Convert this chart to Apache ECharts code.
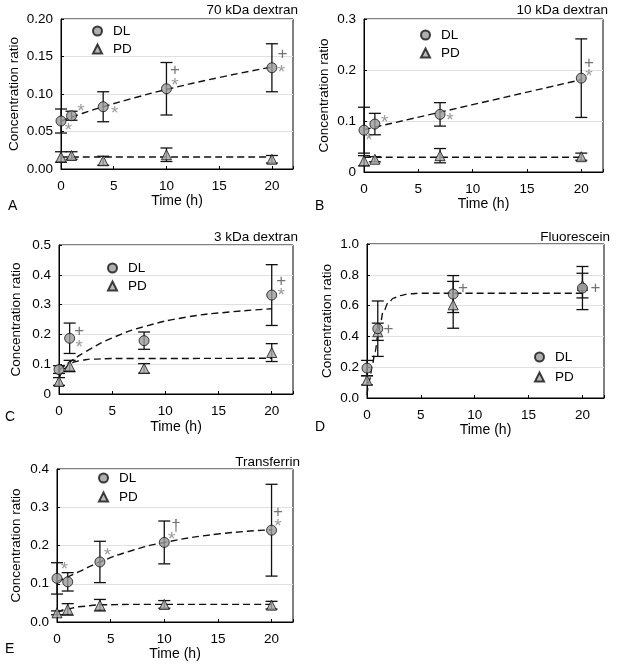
<!DOCTYPE html>
<html><head><meta charset="utf-8">
<script src="https://cdn.jsdelivr.net/npm/echarts@6/dist/echarts.min.js"></script>
<style>html,body{margin:0;padding:0;background:#fff}#c{width:627px;height:671px}</style>
</head><body><div id="c"></div><script>
// ---------- DATA ----------
const xTicks = [0, 5, 10, 15, 20];
// A: 70 kDa dextran
const timeA = [0, 1, 4, 10, 20];
const dlA = [0.064, 0.071, 0.083, 0.107, 0.135];
const dlErrA = [0.016, 0.006, 0.020, 0.035, 0.032];
const pdA = [0.016, 0.018, 0.011, 0.019, 0.013];
const pdErrA = [0.007, 0.005, 0.006, 0.009, 0.005];
const fitDlTimeA = [0, 2, 4, 7, 10, 15, 20];
const fitDlA = [0.064, 0.074, 0.083, 0.095, 0.106, 0.122, 0.136];
const fitPdTimeA = [0, 20];
const fitPdA = [0.016, 0.016];
const annotA = [[0.7,0.056,'*'],[1.9,0.082,'*'],[5.1,0.079,'*'],[10.8,0.131,'+'],[10.8,0.116,'*'],[21,0.153,'+'],[20.9,0.134,'*']];
// B: 10 kDa dextran
const timeB = [0, 1, 7, 20];
const dlB = [0.082, 0.094, 0.113, 0.184];
const dlErrB = [0.045, 0.021, 0.023, 0.077];
const pdB = [0.022, 0.025, 0.032, 0.030];
const pdErrB = [0.010, 0.005, 0.014, 0.007];
const fitDlTimeB = [0, 20];
const fitDlB = [0.083, 0.181];
const fitPdTimeB = [0, 20];
const fitPdB = [0.029, 0.029];
const annotB = [[0.45,0.070,'*'],[1.9,0.105,'*'],[7.9,0.108,'*'],[20.7,0.214,'+'],[20.7,0.194,'*']];
// C: 3 kDa dextran
const timeC = [0, 1, 8, 20];
const dlC = [0.082, 0.187, 0.179, 0.332];
const dlErrC = [0.013, 0.051, 0.029, 0.102];
const pdC = [0.042, 0.094, 0.086, 0.139];
const pdErrC = [0.013, 0.019, 0.016, 0.030];
const fitDlTimeC = [0, 1, 2.5, 5, 8, 12, 16, 20];
const fitDlC = [0.080, 0.107, 0.142, 0.188, 0.226, 0.258, 0.275, 0.286];
const fitPdTimeC = [0, 0.5, 1, 1.5, 2, 3, 5, 20];
const fitPdC = [0.050, 0.085, 0.100, 0.108, 0.113, 0.117, 0.119, 0.120];
const annotC = [[1.9,0.209,'+'],[1.9,0.170,'*'],[20.9,0.377,'+'],[20.9,0.343,'*']];
// D: Fluorescein
const timeD = [0, 1, 8, 20];
const dlD = [0.194, 0.450, 0.675, 0.714];
const dlErrD = [0.050, 0.180, 0.120, 0.140];
const pdD = [0.115, 0.430, 0.605, 0.730];
const pdErrD = [0.030, 0.056, 0.152, 0.080];
const fitDlTimeD = [0, 0.25, 0.5, 0.75, 1, 1.25, 1.5, 2, 2.5, 3, 4, 5, 8, 20];
const fitDlD = [0.02, 0.12, 0.22, 0.30, 0.40, 0.49, 0.56, 0.62, 0.65, 0.665, 0.677, 0.68, 0.68, 0.68];
const fitPdTimeD = [];
const fitPdD = [];
const annotD = [[2.0,0.445,'+'],[8.9,0.714,'+'],[21.2,0.71,'+']];
// E: Transferrin
const timeE = [0, 1, 4, 10, 20];
const dlE = [0.114, 0.105, 0.157, 0.208, 0.240];
const dlErrE = [0.041, 0.024, 0.054, 0.056, 0.120];
const pdE = [0.024, 0.033, 0.044, 0.046, 0.044];
const pdErrE = [0.005, 0.015, 0.015, 0.010, 0.010];
const fitDlTimeE = [0, 2, 4, 7, 10, 15, 20];
const fitDlE = [0.105, 0.131, 0.157, 0.187, 0.208, 0.230, 0.241];
const fitPdTimeE = [0, 1, 2, 4, 7, 20];
const fitPdE = [0.025, 0.034, 0.040, 0.045, 0.046, 0.046];
const annotE = [[0.7,0.146,'*'],[4.7,0.183,'*'],[11.1,0.251,'†'],[10.7,0.225,'*'],[20.6,0.288,'+'],[20.6,0.259,'*']];

const titles = ['70 kDa dextran', '10 kDa dextran', '3 kDa dextran', 'Fluorescein', 'Transferrin'];
const letters = ['A', 'B', 'C', 'D', 'E'];
const yMaxes = [0.2, 0.3, 0.5, 1.0, 0.4];
const yIntervals = [0.05, 0.1, 0.1, 0.2, 0.1];
const yDecimals = [2, -1, -1, 1, 1];

// ---------- LAYOUT ----------
const FONT = '"Liberation Sans", Arial, Helvetica, sans-serif';
const layout = [
  {grid:{left:61, top:19, width:232, height:150}, xGap:25, yGap:40, leg:{left:92, top:24, gap:4}, title:{right:329, top:3}, letter:{left:8, top:199}, mono:false},
  {grid:{left:364, top:19, width:239, height:153}, xGap:24, yGap:33, leg:{left:420, top:28, gap:4}, title:{right:19, top:3}, letter:{left:315, top:199}, mono:false},
  {grid:{left:59, top:245, width:234, height:149}, xGap:26, yGap:36, leg:{left:107, top:261, gap:4}, title:{right:329, top:230}, letter:{left:5, top:410}, mono:false},
  {grid:{left:367, top:244, width:237, height:154}, xGap:24, yGap:33, leg:{left:534, top:350, gap:6}, title:{right:17, top:230}, letter:{left:315, top:420}, mono:true},
  {grid:{left:57, top:469, width:236, height:153}, xGap:23, yGap:34, leg:{left:98, top:471, gap:5}, title:{right:327, top:455}, letter:{left:5, top:642}, mono:false}
];

const panels = [
  {t:timeA, dl:dlA, dlE:dlErrA, pd:pdA, pdE:pdErrA, fdt:fitDlTimeA, fd:fitDlA, fpt:fitPdTimeA, fp:fitPdA, an:annotA},
  {t:timeB, dl:dlB, dlE:dlErrB, pd:pdB, pdE:pdErrB, fdt:fitDlTimeB, fd:fitDlB, fpt:fitPdTimeB, fp:fitPdB, an:annotB},
  {t:timeC, dl:dlC, dlE:dlErrC, pd:pdC, pdE:pdErrC, fdt:fitDlTimeC, fd:fitDlC, fpt:fitPdTimeC, fp:fitPdC, an:annotC},
  {t:timeD, dl:dlD, dlE:dlErrD, pd:pdD, pdE:pdErrD, fdt:fitDlTimeD, fd:fitDlD, fpt:fitPdTimeD, fp:fitPdD, an:annotD},
  {t:timeE, dl:dlE, dlE:dlErrE, pd:pdE, pdE:pdErrE, fdt:fitDlTimeE, fd:fitDlE, fpt:fitPdTimeE, fp:fitPdE, an:annotE}
];

const zip2 = (a, b) => a.map((v, i) => [v, b[i]]);
const zip3 = (a, b, c) => a.map((v, i) => [v, b[i], c[i]]);

function errRender(params, api) {
  const x = api.value(0), y = api.value(1), e = api.value(2);
  const top = api.coord([x, y + e]), bot = api.coord([x, y - e]);
  const w = 6;
  const st = {stroke: '#111', lineWidth: 1.3};
  return {type: 'group', children: [
    {type: 'line', shape: {x1: top[0], y1: top[1], x2: bot[0], y2: bot[1]}, style: st},
    {type: 'line', shape: {x1: top[0] - w, y1: top[1], x2: top[0] + w, y2: top[1]}, style: st},
    {type: 'line', shape: {x1: bot[0] - w, y1: bot[1], x2: bot[0] + w, y2: bot[1]}, style: st}
  ]};
}

const grids = [], xAxes = [], yAxes = [], series = [], legends = [], titleArr = [], graphics = [];
panels.forEach((p, i) => {
  const L = layout[i];
  grids.push(Object.assign({show: true, borderColor: '#000', borderWidth: 1, containLabel: false}, L.grid));
  xAxes.push({gridIndex: i, type: 'value', min: 0, max: 22, interval: 5,
    name: 'Time (h)', nameLocation: 'middle', nameGap: L.xGap,
    nameTextStyle: {fontSize: 14, color: '#000', fontFamily: FONT},
    axisLine: {show: true, onZero: false, lineStyle: {color: '#000', width: 1}},
    axisTick: {show: true, inside: true, length: 3, lineStyle: {color: '#000'}},
    axisLabel: {fontSize: 13.5, color: '#000', margin: 10, fontFamily: FONT,
      formatter: v => (xTicks.indexOf(v) >= 0 ? String(v) : '')},
    splitLine: {show: false}});
  const dec = yDecimals[i];
  yAxes.push({gridIndex: i, type: 'value', min: 0, max: yMaxes[i], interval: yIntervals[i],
    name: 'Concentration ratio', nameLocation: 'middle', nameGap: L.yGap, nameRotate: 90,
    nameTextStyle: {fontSize: 13.5, color: '#000', fontFamily: FONT},
    axisLine: {show: true, lineStyle: {color: '#000', width: 1}},
    axisTick: {show: true, inside: true, length: 3, lineStyle: {color: '#000'}},
    axisLabel: {fontSize: 13.5, color: '#000', margin: 8, fontFamily: FONT,
      formatter: v => dec >= 0 ? v.toFixed(dec) : String(+v.toFixed(2))},
    splitLine: {show: true, lineStyle: {color: '#e0e0e0', width: 1}}});

  const dash = [7, 4];
  const smoothOpt = L.mono ? {smooth: 0.4, smoothMonotone: 'x'} : {smooth: 0.5};
  series.push(Object.assign({type: 'line', xAxisIndex: i, yAxisIndex: i, data: zip2(p.fdt, p.fd),
    symbol: 'none', silent: true, z: 1, lineStyle: {color: '#111', width: 1.4, type: dash}}, smoothOpt));
  if (p.fpt.length) series.push(Object.assign({type: 'line', xAxisIndex: i, yAxisIndex: i, data: zip2(p.fpt, p.fp),
    symbol: 'none', silent: true, z: 1, lineStyle: {color: '#111', width: 1.4, type: dash}}, {smooth: 0.4, smoothMonotone: 'x'}));
  series.push({type: 'custom', xAxisIndex: i, yAxisIndex: i, data: zip3(p.t, p.dl, p.dlE), renderItem: errRender, z: 2, silent: true});
  series.push({type: 'custom', xAxisIndex: i, yAxisIndex: i, data: zip3(p.t, p.pd, p.pdE), renderItem: errRender, z: 2, silent: true});
  series.push({type: 'scatter', name: 'PD', xAxisIndex: i, yAxisIndex: i, data: zip2(p.t, p.pd), symbol: 'triangle', symbolSize: 10,
    itemStyle: {color: '#a8a8a8', borderColor: '#111', borderWidth: 1}, z: 3});
  series.push({type: 'scatter', name: 'DL', xAxisIndex: i, yAxisIndex: i, data: zip2(p.t, p.dl), symbol: 'circle', symbolSize: 10,
    itemStyle: {color: '#9a9a9a', borderColor: '#111', borderWidth: 1}, z: 4});
  series.push({type: 'scatter', xAxisIndex: i, yAxisIndex: i, silent: true, symbolSize: 1, z: 5,
    itemStyle: {color: 'rgba(0,0,0,0)'},
    data: p.an.map(a => ({name: a[2], value: [a[0], a[1]],
      label: {color: a[2] === '*' ? '#808080' : '#505050', fontSize: a[2] === '*' ? 19 : 17, offset: a[2] === '*' ? [0, 4] : [0, 0]}})),
    label: {show: true, position: 'inside', formatter: '{b}', fontFamily: FONT}});

  legends.push({data: ['DL', 'PD'], orient: 'vertical', left: L.leg.left, top: L.leg.top, itemGap: L.leg.gap,
    itemWidth: 9, itemHeight: 9, selectedMode: false, padding: 0,
    textStyle: {fontSize: 13.5, color: '#000', fontFamily: FONT, padding: [0, 0, 0, 6]}});
  titleArr.push({text: titles[i], right: L.title.right, top: L.title.top, padding: 0,
    textStyle: {fontSize: 13.5, fontWeight: 'normal', color: '#000', fontFamily: FONT}});
  graphics.push({type: 'text', left: L.letter.left, top: L.letter.top,
    style: {text: letters[i], fontSize: 14, fill: '#000', fontFamily: FONT}});
});

const chart = echarts.init(document.getElementById('c'), null, {renderer: 'canvas'});
chart.setOption({
  backgroundColor: '#fff',
  animation: false,
  title: titleArr,
  legend: legends,
  grid: grids,
  xAxis: xAxes,
  yAxis: yAxes,
  series: series,
  graphic: graphics
});
</script></body></html>
